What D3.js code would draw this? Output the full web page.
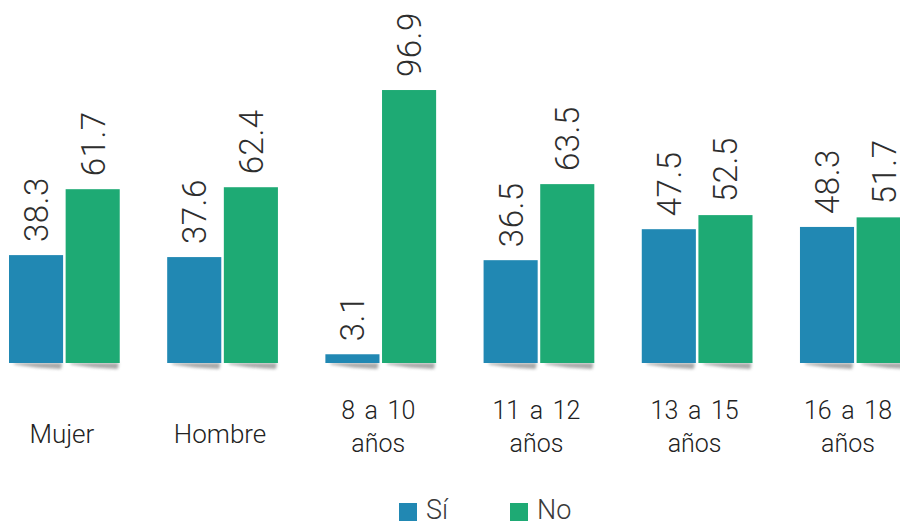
<!DOCTYPE html>
<html><head><meta charset="utf-8">
<script src="https://cdn.jsdelivr.net/npm/d3@7"></script>
<style>
html,body{margin:0;padding:0;background:#fff;}
svg{display:block;font-family:Roboto,"Liberation Sans",Arial,sans-serif;}
</style></head>
<body>
<svg id="chart" width="900" height="522"></svg>
<script>
const categories = [["Mujer"], ["Hombre"], ["8 a 10","años"], ["11 a 12","años"], ["13 a 15","años"], ["16 a 18","años"]];
const seriesNames = ["Sí", "No"];
const siValues = [38.3, 37.6, 3.1, 36.5, 47.5, 48.3];
const noValues = [61.7, 62.4, 96.9, 63.5, 52.5, 51.7];
const colors = ["#2188b3", "#1eaa74"];

const svg = d3.select("#chart");
const keys = categories.map(c => c.join(" "));
const baseY = 363;

const x0 = d3.scaleBand().domain(keys).range([9, 910.7]).paddingInner(0.3).paddingOuter(0);
const x1 = d3.scaleBand().domain(seriesNames).range([0, x0.bandwidth()]).paddingInner(0.045);
const y = d3.scaleLinear().domain([0, 100]).range([baseY, 81.3]);

const defs = svg.append("defs");
defs.append("filter").attr("id","blur").attr("x","-20%").attr("y","-100%").attr("width","140%").attr("height","300%")
  .append("feGaussianBlur").attr("stdDeviation", 1.4);

const data = keys.map((k, i) => ({key: k, vals: [siValues[i], noValues[i]]}));

const g = svg.append("g");
data.forEach(d => {
  d.vals.forEach((v, j) => {
    const bx = x0(d.key) + x1(seriesNames[j]);
    const bw = x1.bandwidth();
    g.append("path")
      .attr("d", `M${bx+4},${baseY} L${bx+bw-1},${baseY} L${bx+bw-2},${baseY+6} Q${bx+bw*0.5},${baseY+5} ${bx+6},${baseY+1.5} Z`)
      .attr("fill", "#8a8a8a").attr("opacity", 0.75).attr("filter", "url(#blur)");
    g.append("rect")
      .attr("x", bx).attr("y", y(v))
      .attr("width", bw).attr("height", baseY - y(v))
      .attr("fill", colors[j]);
    g.append("text")
      .attr("transform", `translate(${bx + bw/2},${y(v) - 13}) rotate(-90)`)
      .attr("dy", "0.36em")
      .attr("font-size", 33)
      .attr("font-weight", 300)
      .attr("letter-spacing", 0.5)
      .attr("fill", "#2e2e2e")
      .text(v.toFixed(1));
  });
});

// category labels
categories.forEach((c, i) => {
  let cx = x0(keys[i]) + x0.bandwidth()/2 - 2.5;
  const t = svg.append("text").attr("text-anchor","middle").attr("fill","#222").attr("font-weight", 300);
  if (c.length === 1) {
    t.attr("font-size", 26);
    t.append("tspan").attr("x", cx).attr("y", 443).text(c[0]);
  } else {
    t.attr("font-size", 25).attr("word-spacing", 3.5);
    t.append("tspan").attr("x", cx).attr("y", 419).text(c[0]);
    t.append("tspan").attr("x", cx).attr("y", 452).text(c[1]);
  }
  const bb = t.node().getBBox();
  if (bb.x + bb.width > 892) {
    const shift = bb.x + bb.width - 892;
    t.selectAll("tspan").attr("x", cx - shift);
  }
});

// legend
const legX = [399, 510];
seriesNames.forEach((s, j) => {
  svg.append("rect").attr("x", legX[j]).attr("y", 503).attr("width", 18).attr("height", 18).attr("fill", colors[j]);
  svg.append("text").attr("x", legX[j] + 27).attr("y", 518.5).attr("font-size", 27).attr("font-weight", 300).attr("fill", "#3a3a3a").text(s);
});
</script>
</body></html>
